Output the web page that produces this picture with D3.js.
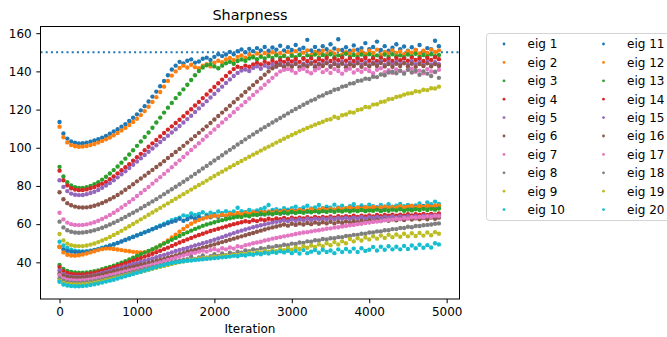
<!DOCTYPE html>
<html>
<head>
<meta charset="utf-8">
<script src="https://cdn.jsdelivr.net/npm/d3@7"></script>
<style>
  body { margin: 0; background: #fff; }
  text { font-family: "DejaVu Sans", sans-serif; fill: #000; }
</style>
</head>
<body>
<svg id="chart" width="667" height="337"></svg>
<script>
// iterations at which the eigenvalues were logged
const iterations = d3.range(0, 4901, 50);

const eig1 = [113.5,107.5,104.8,103.3,102.6,102.3,102.4,102.7,103.2,103.8,
  104.5,105.3,106.2,107.3,108.5,109.7,111,112.4,114,115.7,
  117.5,119.6,121.8,124.2,126.8,129.4,132.2,135,138,141,
  143,145,144.2,145.6,146.3,144.6,145.2,146.6,147.2,146,
  147.6,149,148,148.8,150.2,149,150.5,151.5,150,151.8,
  150.6,152.2,151,152.8,150.8,152.5,151.4,153.4,151,152.6,
  151.2,153.8,151.5,152.4,156.5,151,152.8,150.8,153.2,151.6,
  154.2,152,156.8,151.2,152.6,150.8,153.6,151.4,152.2,154.8,
  151.6,152.8,155.6,151.2,153.2,150.8,152.4,154.2,151.6,153,
  150.8,152.6,151.2,153.8,150.4,152.2,151.6,156,153.2];
const eig2 = [111,105.5,102.8,101.4,100.8,100.5,100.6,100.9,101.4,102,
  102.7,103.5,104.4,105.4,106.5,107.7,109,110.4,111.9,113.5,
  115.2,117.1,119.2,121.5,124,126.5,129.2,132,135,137.8,
  140,141.8,143,142,143.5,142.2,141.6,143,143.8,142.6,
  144.5,145.6,144.8,146.2,147,146,147.6,148.4,147.2,148.8,
  148,149.4,148.2,149.6,148.6,150,148.8,149.6,148.4,150.2,
  149,150.6,148.8,149.8,151,148.6,150.2,149.4,150.8,149,
  150.4,149.2,151.2,148.8,150,149.4,151,149,150.6,149.2,
  150.8,149.6,151.4,148.8,150.2,149.4,151,149.6,150.4,149,
  150.6,149.8,151.2,149.4,150.8,149.6,151.4,150.2,151];
const eig3 = [90,85,82,80.3,79.4,79,79,79.3,80,80.9,
  82,83.3,84.8,86.5,88.3,90.2,92.2,94.3,96.5,98.7,
  101,103.3,105.6,108,110.5,113.2,115.8,118.4,121,123.5,
  126,128.3,130.6,133,135.5,138,140.2,142,143.2,143.8,
  142.6,141.6,143,144.2,145,144,145.4,146.2,145.6,146.8,
  147.4,146.4,147.6,146.8,148,147,148.4,147.2,148,146.8,
  148.2,147.4,148.6,147,148.4,147.6,148.8,147.2,148.6,147.8,
  149,147.4,148.4,147.8,149.2,147.6,148.6,147.4,148.8,147.8,
  149,147.6,148.4,147.2,148.8,147.6,149,147.8,148.4,147.4,
  148.8,147.8,149.2,147.6,148.6,147.8,149,148,148.6];
const eig4 = [88,83,80.3,78.8,78.1,77.8,77.9,78.2,78.8,79.4,
  80.2,81.1,82.1,83.5,85,86.6,88.2,89.8,91.4,93.2,
  95,96.8,98.7,100.5,102.3,104.1,105.9,107.7,109.5,111.2,
  113,114.7,116.5,118.3,120.2,122.1,124,126,127.9,129.9,
  131.8,133.8,135.7,137.6,139.5,141.2,142.4,141.8,143,142.4,
  143.6,144.4,143.6,145,144.2,145.6,144.6,145.8,145,146.2,
  145.2,146.4,145,146.6,145.4,146.8,145.2,146.4,145.6,147,
  145.4,146.6,145.8,147.2,145.6,146.8,145.4,146.6,145.8,147,
  145.6,146.8,145.4,147.2,145.8,146.6,145.4,147,145.8,146.8,
  145.6,147.2,146,146.8,145.4,147,146,147.4,146.4];
const eig5 = [83,79.5,77.3,76,75.4,75.2,75.3,75.7,76.3,77,
  77.9,79,80.2,81.5,83,84.5,86.1,87.7,89.4,91.1,
  92.8,94.5,96.2,97.9,99.6,101.3,103,104.6,106.3,108,
  109.7,111.4,113.2,115,116.8,118.7,120.6,122.5,124.4,126.3,
  128.2,130.1,132,133.9,135.8,137.6,139.2,140.4,141,140.2,
  141.8,142.6,141.4,143,142.2,143.6,142.4,144,142.8,144.2,
  143,144.4,142.6,144,143.2,144.6,142.8,144.2,143.4,144.8,
  143,144.4,143.6,145,143.2,144.6,143.4,145,143.6,144.8,
  143.2,144.6,143.8,145.2,143.4,144.8,143.6,145,143.8,144.6,
  143.4,145.2,143.8,144.8,143.4,145,143.6,144.8,143.8];
const eig6 = [76.7,73,71,69.9,69.2,68.8,68.7,68.8,69.1,69.6,
  70.3,71.1,72,73,74.1,75.3,76.6,78,79.4,80.9,
  82.4,83.9,85.4,86.9,88.4,89.9,91.4,93,94.6,96.2,
  97.8,99.4,101,102.7,104.4,106.1,107.8,109.5,111.2,113,
  114.8,116.6,118.4,120.2,122,123.8,125.6,127.4,129.2,131,
  132.8,134.6,136.4,138.2,140,141.6,142.8,143.4,142.2,143.6,
  142.4,143.8,142,143.4,142.6,144,142.2,143.6,142.8,144.2,
  142.4,143.8,142.6,144,142.2,143.6,142.8,144.2,142.4,143.8,
  142.6,144,142.8,144.4,142.6,143.8,142.4,144,142.8,144.2,
  142.6,144,142.4,143.8,142.8,144.2,142.6,143.8,142.8];
const eig7 = [66,62.5,60.8,60,59.6,59.5,59.6,59.9,60.4,61,
  61.8,62.7,63.7,64.8,66,67.3,68.7,70.1,71.6,73.1,
  74.7,76.3,77.9,79.5,81.2,82.9,84.6,86.3,88,89.8,
  91.6,93.4,95.2,97,98.8,100.6,102.4,104.2,106,107.8,
  109.6,111.4,113.2,115,116.8,118.6,120.4,122.2,124,125.8,
  127.6,129.4,131.2,133,134.8,136.6,138.4,140,140.8,141.2,
  140.4,139.2,140.8,141.4,140,139,140.6,141.6,139.6,140.8,
  139.2,141.2,140.2,138.8,140.6,141.4,139.4,140.8,139.8,141.2,
  140.2,139,140.8,141.6,139.6,140.6,139.2,141,140.2,139.4,
  140.8,141.4,139.8,140.4,139,141.2,140,139.6,140.8];
const eig8 = [61.3,58.3,56.8,56,55.6,55.5,55.6,55.9,56.3,56.8,
  57.4,58.1,58.9,59.8,60.7,61.7,62.7,63.8,64.9,66,
  67.1,68.3,69.5,70.7,71.9,73.1,74.4,75.7,77,78.3,
  79.6,80.9,82.2,83.5,84.9,86.3,87.7,89.1,90.5,91.9,
  93.3,94.7,96.1,97.5,98.9,100.3,101.7,103,104.4,105.7,
  107,108.3,109.6,110.8,112,113.2,114.4,115.6,116.8,118,
  119.2,120.3,121.4,122.5,123.6,124.7,125.4,126.8,127.4,128.6,
  129.2,130.4,130.8,132,132.4,133.6,133.8,135,135.2,136.2,
  136,137.2,137,138.4,138,139.4,139.8,139,140.4,138.8,
  140.8,139.4,140.4,138.2,140,138.8,137.6,139.8,136.6];
const eig9 = [54.8,51.5,49.8,49,48.6,48.5,48.5,48.8,49.3,49.9,
  50.6,51.4,52.3,53.3,54.3,55.4,56.5,57.7,58.9,60.1,
  61.3,62.5,63.7,64.9,66.1,67.3,68.5,69.7,70.9,72.1,
  73.3,74.5,75.7,76.9,78.1,79.3,80.5,81.6,82.8,84,
  85.2,86.4,87.5,88.6,89.8,90.9,92,93.1,94.2,95.3,
  96.4,97.4,98.5,99.6,100.6,101.6,102.7,103.7,104.7,105.7,
  106.7,107.6,108.6,109.5,110.4,111.2,112.1,112.9,113.6,114.6,
  114.9,116.2,115.6,117,117.4,118.6,118.4,119.8,120.2,121.4,
  121.2,122.6,122.8,124,124.2,125.4,125.6,126.6,127,127.8,
  128.4,128.6,129.6,129.4,130.4,130.2,131.2,131,132];
const eig10 = [50.8,48.8,47.5,46.6,46.1,45.8,45.7,45.8,46.1,46.5,
  47,47.6,48.2,48.8,49.5,50.2,51,51.8,52.6,53.4,
  54.2,55,55.8,56.6,57.5,58.4,59.3,60.2,61.1,62,
  62.7,63.4,64.6,64.2,65.6,64.8,65.4,66.2,65,66,
  65.4,66.6,65.8,66.8,66,66.6,68.6,66.8,66.4,67.4,
  66.6,67.2,67.8,68.6,70,67.4,67.8,67.2,68.4,67.6,
  68.4,69.2,67.8,68.8,69.6,68.2,68.8,70,68.4,69.2,
  68.6,70.2,68.8,69.6,68.4,69.4,70.4,68.8,69.8,69,
  70.2,69.4,68.6,70,69.2,70.4,69,69.6,70.6,69.4,
  70,68.8,69.8,70.8,69.4,71.4,70.4,71.8,70.6];
const eig11 = [48.2,46.8,46,45.6,45.4,45.3,45.4,45.6,45.9,46.3,
  46.8,47.4,48,48.7,49.4,50.1,50.9,51.7,52.5,53.3,
  54.1,54.9,55.7,56.5,57.3,58.1,58.9,59.7,60.5,61.2,
  61.8,62.8,61.8,62.6,63.6,62.8,63.8,63,64.2,63.6,
  64.6,63.8,64.8,64.2,65.2,64.4,65,64.6,65.6,64.8,
  65.4,66,65.2,66.2,65.6,66.4,65.8,66.6,66,66.8,
  66.2,67,66.4,67.2,66.6,67.4,66.8,67.6,67,67.8,
  67.2,67.6,68.2,67.4,68,67.6,68.4,67.8,68.6,67.8,
  68.4,68,68.8,68,68.6,68.2,69,68.2,68.8,68.4,
  69.2,68.4,69,68.6,69.4,68.6,69.2,68.8,69.4];
const eig12 = [48,45.2,44,43.6,43.5,43.7,44.1,44.6,45.2,45.8,
  46.4,46.9,47.2,47.2,47,46.7,46.4,46.1,45.8,45.5,
  45.3,45.2,45.3,45.8,46.6,47.6,48.8,50.1,51.5,53,
  54.5,56,57.5,58.9,60.2,61.3,62.2,62.9,63.5,64,
  64.4,64.2,65,64.6,65.4,65,65.8,65.2,66,65.4,
  66.2,65.6,66.4,66,66.6,66,66.8,66.2,67,66.4,
  67.2,66.6,67.4,66.8,67.2,67.8,67,67.6,68.2,67.4,
  68,67.6,68.4,67.8,68.2,68.8,68,68.6,68.2,68.8,
  68.4,69,68.4,68.8,69.2,68.6,69,68.6,69.4,68.8,
  69.2,69.6,68.8,69.4,69,69.6,69.2,69.8,69.6];
const eig13 = [38.6,36.5,35.5,35,34.7,34.6,34.6,34.7,35,35.3,
  35.8,36.4,37,37.6,38.2,39,39.8,40.6,41.5,42.4,
  43.3,44.2,45.1,46,46.9,47.8,48.8,49.8,50.8,51.8,
  52.8,53.8,54.8,55.7,56.6,57.5,58.3,59.1,59.8,60.4,
  61,61.6,62.1,62.6,63.1,63.5,63.9,63.7,64.5,64.1,
  64.9,64.8,65.6,65,65.8,65.2,66,65.4,66.2,65.6,
  66.4,65.8,66.4,66,66.6,66.2,66.8,66.2,66.8,66.4,
  67,66.4,67,66.6,67.2,66.6,67.2,66.8,67.4,66.8,
  67.2,67,67.6,66.8,67.4,67,67.6,67.2,67.8,67,
  67.6,67.2,67.8,67.4,68,67.4,68,67.6,68.2];
const eig14 = [37.5,35.4,34.4,33.9,33.7,33.6,33.7,33.9,34.2,34.6,
  35.1,35.6,36.2,36.8,37.4,38.1,38.8,39.5,40.2,40.9,
  41.6,42.3,43,43.7,44.5,45.3,46.1,46.9,47.7,48.6,
  49.5,50.4,51.2,52,52.8,53.6,54.3,55,55.7,56.4,
  57,57.6,58.2,58.8,59.4,60,60.5,61,61.5,61.2,
  62,61.6,62.4,62,62.8,62.2,63,62.6,63.2,62.6,
  63.4,62.8,63.4,63,63.6,63,63.8,63.2,63.8,63.4,
  64,63.4,64.2,63.6,64.2,63.8,64.4,63.8,64.4,64,
  64.6,64,64.8,64.2,64.8,64.4,65,64.4,65,64.6,
  65.2,64.6,65.2,64.8,65.4,64.8,65.4,65,65.6];
const eig15 = [35.8,33.8,32.9,32.5,32.3,32.3,32.4,32.6,32.9,33.3,
  33.8,34.3,34.9,35.5,36.1,36.7,37.3,37.9,38.5,39.1,
  39.7,40.3,40.9,41.5,42.1,42.7,43.3,43.9,44.5,45.2,
  45.9,46.5,47,47.5,48.2,48.8,49.4,50,50.6,51.2,
  51.8,52.5,53.2,53.9,54.6,55.3,56,56.6,57.2,57.8,
  58.4,58.9,59.4,59.9,60.4,60.8,61.2,61.6,62,61.6,
  62.4,61.8,62.6,62,62.8,62.2,62.8,62.4,63,62.4,
  63.2,62.6,63.2,62.8,63.4,62.8,63.4,63,63.6,63,
  63.6,63.2,63.8,63.2,63.8,63.4,64,63.4,64,63.6,
  64.2,63.6,64.2,63.8,64.4,63.8,64.4,64,64.6];
const eig16 = [34.2,33,32.4,32.1,32,32,32.1,32.3,32.6,32.9,
  33.3,33.7,34.2,34.7,35.2,35.7,36.2,36.7,37.2,37.7,
  38.2,38.7,39.2,39.7,40.2,40.7,41.2,41.8,42.4,43,
  43.6,44.2,44.8,45.4,46,46.5,47,47.6,48.2,48.8,
  49.4,50,50.6,51.2,51.8,52.4,53,53.6,54.2,54.8,
  55.4,56,56.6,57.2,57.8,58.3,58.8,59.3,59.8,59.2,
  60.2,59.6,60.4,59.8,60.6,60,60.8,60.2,61,60.4,
  61.2,60.4,61.2,60.6,61.4,60.8,61.6,61,61.8,61.2,
  62,61.4,62.2,61.6,62.4,61.8,62.6,62,62.8,62.2,
  63,62.4,63,62.6,63.2,62.6,63.4,62.8,63.4];
const eig17 = [33.2,31.6,30.9,30.6,30.5,30.5,30.6,30.8,31.1,31.4,
  31.8,32.2,32.7,33.2,33.7,34.2,34.7,35.2,35.7,36.2,
  36.7,37.2,37.7,38.2,38.8,39.4,40,40.6,41.2,41.8,
  42.4,43,43.6,44.2,44.8,45,45.6,46.2,45.6,46.4,
  47,46.2,47.4,46.8,47.8,47.2,48.4,48,49,49.4,
  50,50.4,50.8,51.4,51.8,52.4,52.8,53.2,53.6,54,
  54.4,54.8,55.2,55.6,55.8,56.2,56.6,56.8,57.2,57.6,
  57.8,58.2,58.4,58.8,59,59.4,59.6,60,60.2,60.6,
  60.8,61.2,61.4,61.6,62,62.2,62.4,62.8,62.6,63.2,
  63,63.6,63.4,63.8,63.6,64.2,63.8,64.4,64.2];
const eig18 = [31.6,30.2,29.6,29.3,29.2,29.2,29.3,29.5,29.8,30.1,
  30.5,30.9,31.4,31.9,32.4,32.9,33.4,33.9,34.4,34.9,
  35.4,35.9,36.4,36.9,37.4,37.9,38.4,38.9,39.4,39.9,
  40.4,40.8,41.2,41.6,43,41.8,42.6,43.6,42.4,43.2,
  44.2,43.4,44.6,43.8,45,44.4,45.6,45,46.2,45.8,
  46.8,46.4,47.4,47,48,47.8,48.6,48.4,49.2,49,
  49.8,49.6,50.4,50.2,51,50.8,51.6,51.4,52.2,52,
  52.6,52.6,53.2,53.2,53.8,53.8,54.4,54.4,55,55,
  55.6,55.6,56.2,56.2,56.8,56.8,57.4,57.4,58,58,
  58.6,58.4,59,59,59.4,59.6,59.8,60.2,60.4];
const eig19 = [30.4,29.2,28.7,28.5,28.4,28.4,28.5,28.7,29,29.3,
  29.7,30.1,30.6,31.1,31.6,32.1,32.6,33.1,33.6,34.1,
  34.6,35.1,35.6,36.1,36.6,37.1,37.6,38.1,38.6,39.1,
  39.6,40.1,40.5,40.9,41.3,41.6,41.9,42.2,42.4,42.6,
  42.8,43,43.2,43.6,43.4,44,43.8,44.4,44.2,45,
  44.6,45.4,45,46,45.4,46.4,45.8,47,46.4,47.4,
  46.6,47.8,47,48.4,47.6,48.8,48,49.4,48.4,50,
  49,50.6,49.4,51,50,52.2,51,52.6,51.4,53,
  52,53.6,52.4,54,52.8,54.4,53.2,54.6,53.4,55,
  53.6,55.2,53.8,55.4,54,55.6,54.2,55.8,55];
const eig20 = [29.8,28.4,27.9,27.6,27.5,27.5,27.6,27.8,28.1,28.5,
  28.9,29.4,29.9,30.4,30.9,31.5,32.1,32.7,33.3,33.9,
  34.5,35.1,35.7,36.3,36.9,37.5,38.1,38.6,39.1,39.6,
  40,40.3,40.6,40.8,41,41.2,41.4,41.6,41.8,42,
  42.2,42.4,42.6,42.8,43,43.4,43.2,43.8,43.6,44.2,
  44,44.6,44.2,45,44.6,45.4,45,45.8,45.2,46,
  44.8,46,44.6,46.4,44.8,45.6,46.4,45,46.6,45.4,
  46.2,44.8,46.8,45.4,47,45.6,47.2,45.4,47.4,46,
  46.6,48,46.2,48.2,46.6,48.4,46.8,48.2,46.8,48.6,
  47,48.8,47.4,49.2,47.6,49,47.8,50,49.4];

const series = [eig1, eig2, eig3, eig4, eig5, eig6, eig7, eig8, eig9, eig10,
  eig11, eig12, eig13, eig14, eig15, eig16, eig17, eig18, eig19, eig20];
const labels = series.map((_, i) => `eig ${i + 1}`);
const colors = d3.schemeCategory10;
const xTicks = [0, 1000, 2000, 3000, 4000, 5000];
const yTicks = [40, 60, 80, 100, 120, 140, 160];
const threshold = 150;

const svg = d3.select('#chart');
const plot = { left: 40.5, top: 26.5, right: 459.5, bottom: 299 };

const x = d3.scaleLinear().domain([-246, 5166]).range([plot.left, plot.right]);
const y = d3.scaleLinear().domain([20.8, 163.5]).range([plot.bottom, plot.top]);

// dotted reference line
svg.append('line')
  .attr('x1', plot.left).attr('x2', plot.right)
  .attr('y1', y(threshold)).attr('y2', y(threshold))
  .attr('stroke', colors[0])
  .attr('stroke-width', 2)
  .attr('stroke-dasharray', '2,3.2');

// scatter series, eig 1 first so later ones sit on top
series.forEach((vals, i) => {
  svg.append('g')
    .selectAll('circle')
    .data(vals)
    .enter()
    .append('circle')
    .attr('cx', (d, j) => x(iterations[j]))
    .attr('cy', d => y(d))
    .attr('r', 2.2)
    .attr('fill', colors[i % 10]);
});

// spines
svg.append('rect')
  .attr('x', plot.left).attr('y', plot.top)
  .attr('width', plot.right - plot.left).attr('height', plot.bottom - plot.top)
  .attr('fill', 'none').attr('stroke', '#000').attr('stroke-width', 1);

const xAxis = svg.append('g')
  .attr('transform', `translate(0,${plot.bottom})`)
  .call(d3.axisBottom(x).tickValues(xTicks).tickFormat(d3.format('d'))
    .tickSize(4.2).tickSizeOuter(0).tickPadding(4.5));
const yAxis = svg.append('g')
  .attr('transform', `translate(${plot.left},0)`)
  .call(d3.axisLeft(y).tickValues(yTicks).tickFormat(d3.format('d'))
    .tickSize(4.2).tickSizeOuter(0).tickPadding(4.6));

[xAxis, yAxis].forEach(g => {
  g.select('.domain').remove();
  g.selectAll('line').attr('stroke', '#000').attr('stroke-width', 1);
  g.selectAll('text')
    .style('font-family', '"DejaVu Sans", sans-serif')
    .style('font-size', '12px')
    .attr('fill', '#000');
});

svg.append('text')
  .attr('x', (plot.left + plot.right) / 2).attr('y', 20)
  .attr('text-anchor', 'middle')
  .style('font-size', '14.4px')
  .text('Sharpness');

svg.append('text')
  .attr('x', (plot.left + plot.right) / 2).attr('y', 333)
  .attr('text-anchor', 'middle')
  .style('font-size', '12px')
  .text('Iteration');

// legend, two columns of ten
const legend = svg.append('g');
legend.append('rect')
  .attr('x', 486.5).attr('y', 33.5)
  .attr('width', 200).attr('height', 187)
  .attr('rx', 3)
  .attr('fill', '#fff').attr('stroke', '#d4d4d4').attr('stroke-width', 1);

labels.forEach((lab, i) => {
  const col = Math.floor(i / 10);
  const row = i % 10;
  const cy = 44 + row * 18.4;
  const mx = col === 0 ? 504 : 603.5;
  legend.append('circle')
    .attr('cx', mx).attr('cy', cy).attr('r', 1.4)
    .attr('fill', colors[i % 10]);
  legend.append('text')
    .attr('x', mx + 23.5).attr('y', cy + 4.3)
    .style('font-size', '12px')
    .text(lab);
});
</script>
</body>
</html>
